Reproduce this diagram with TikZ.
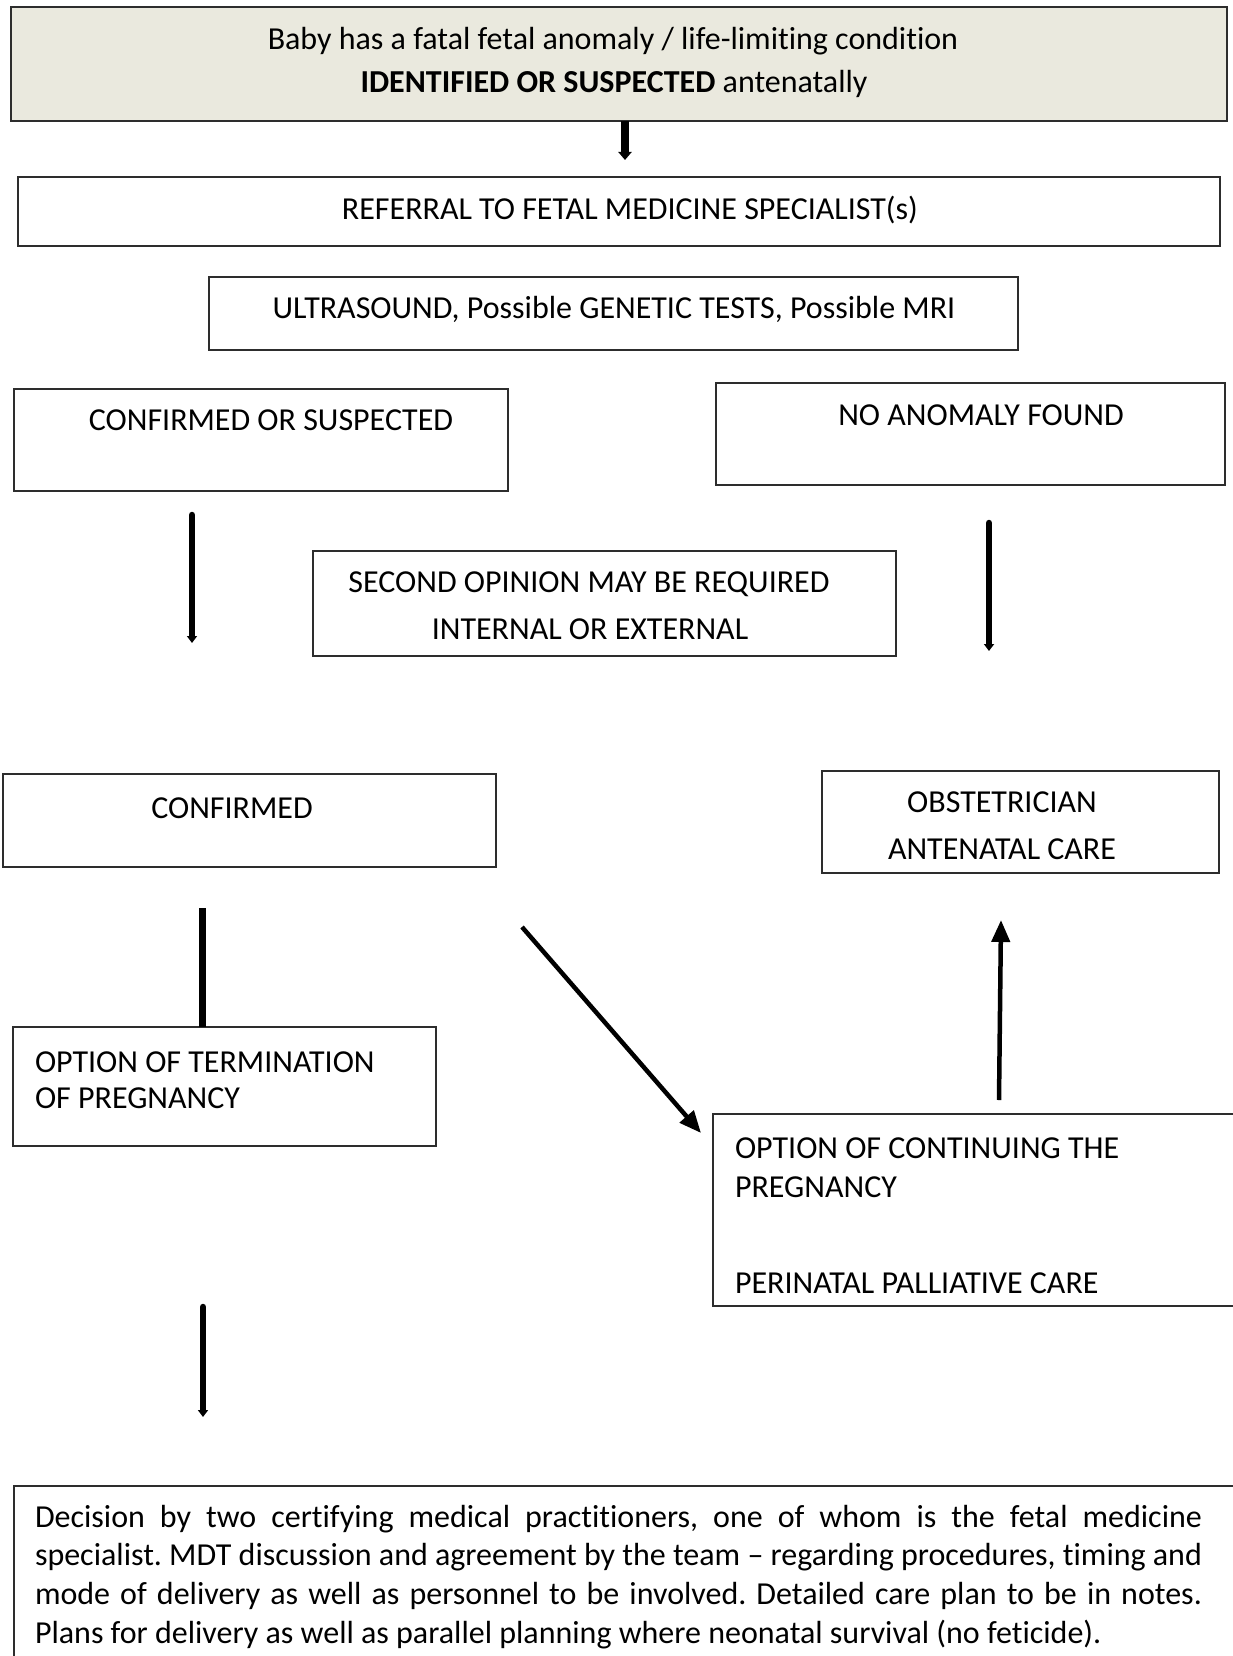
\documentclass[tikz,border=0pt]{standalone}
\usepackage{fontspec}
\setmainfont{Carlito}[Ligatures={NoCommon}]
\usetikzlibrary{arrows.meta}
\definecolor{topfill}{RGB}{234,233,222}
\definecolor{edge}{RGB}{45,45,45}
\frenchspacing
\begin{document}
\begin{tikzpicture}[x=1pt,y=-1pt,
  box/.style={draw=edge, line width=1.5pt, inner sep=0pt, outer sep=0pt, anchor=north west},
  txt/.style={inner sep=0pt, outer sep=0pt, font=\fontsize{32}{44}\selectfont},
  fatarrow/.style={line width=6.5pt, line cap=round, -{Triangle[width=10pt,length=7pt]}},
  thinarrow/.style={line width=4.5pt, -{Triangle[width=18pt,length=22pt]}},
  plainline/.style={line width=7pt}
]
\useasboundingbox (0,0) rectangle (1232,1656);

% boxes
\node[box, fill=topfill, minimum width=1216pt, minimum height=114pt] (top) at (11,7) {};
\node[box, minimum width=1202pt, minimum height=69pt] (ref) at (18,177) {};
\node[box, minimum width=809pt, minimum height=73pt] (us) at (209,277) {};
\node[box, minimum width=494pt, minimum height=102pt] (cs) at (14,389) {};
\node[box, minimum width=509pt, minimum height=102pt] (na) at (716,383) {};
\node[box, minimum width=583pt, minimum height=105pt] (so) at (313,551) {};
\node[box, minimum width=493pt, minimum height=93pt] (conf) at (3,774) {};
\node[box, minimum width=397pt, minimum height=102pt] (obs) at (822,771) {};
\node[box, minimum width=423pt, minimum height=119pt] (term) at (13,1027) {};
\node[box, minimum width=540pt, minimum height=192pt] (cont) at (713,1114) {};
\node[box, minimum width=1240pt, minimum height=200pt] (dec) at (14,1486) {};

% texts
\node[txt, anchor=base] (top-t1) at (613,50) {Baby has a fatal fetal anomaly / life-limiting condition};
\node[txt, anchor=base] (top-t2) at (614,93) {\textbf{IDENTIFIED OR SUSPECTED} antenatally};
\node[txt, anchor=base] (ref-t) at (630,219) {REFERRAL TO FETAL MEDICINE SPECIALIST(s)};
\node[txt, anchor=base] (us-t) at (614,318) {ULTRASOUND, Possible GENETIC TESTS, Possible MRI};
\node[txt, anchor=base] (cs-t) at (271,430) {CONFIRMED OR SUSPECTED};
\node[txt, anchor=base] (na-t) at (981,425) {NO ANOMALY FOUND};
\node[txt, anchor=base] (so-t1) at (589,592) {SECOND OPINION MAY BE REQUIRED};
\node[txt, anchor=base] (so-t2) at (590,639) {INTERNAL OR EXTERNAL};
\node[txt, anchor=base] (conf-t) at (232,818) {CONFIRMED};
\node[txt, anchor=base] (obs-t1) at (1002,812) {OBSTETRICIAN};
\node[txt, anchor=base] (obs-t2) at (1002,859) {ANTENATAL CARE};
\node[txt, anchor=base west] (term-t1) at (35,1072) {OPTION OF TERMINATION};
\node[txt, anchor=base west] (term-t2) at (35,1108) {OF PREGNANCY};
\node[txt, anchor=base west] (cont-t1) at (735,1158) {OPTION OF CONTINUING THE};
\node[txt, anchor=base west] (cont-t2) at (735,1197) {PREGNANCY};
\node[txt, anchor=base west] (cont-t3) at (735,1293) {PERINATAL PALLIATIVE CARE};
\node[txt, anchor=north west, text width=1167pt, align=justify,
      font=\fontsize{32}{38.7}\selectfont] (dec-t) at (35,1505)
  {Decision by two certifying medical practitioners, one of whom is the fetal medicine\linebreak
   specialist. MDT discussion and agreement by the team -- regarding procedures, timing and\linebreak
   mode of delivery as well as personnel to be involved. Detailed care plan to be in notes.\linebreak
   Plans for delivery as well as parallel planning where neonatal survival (no feticide).};

% connector end points
\coordinate (a1s) at (625,121);  \coordinate (a1e) at (625,160);
\coordinate (a2s) at (192,515);  \coordinate (a2e) at (192,643);
\coordinate (a3s) at (989,523);  \coordinate (a3e) at (989,651);
\coordinate (a4s) at (202,908);
\coordinate (a5s) at (522,927);  \coordinate (a5e) at (701,1133);
\coordinate (a6s) at (999,1100); \coordinate (a6e) at (1001,920);
\coordinate (a7s) at (203,1307); \coordinate (a7e) at (203,1417);

\draw[line width=8pt, -{Triangle[width=13pt,length=8pt]}] (a1s) -- (a1e);
\draw[fatarrow] (a2s) -- (a2e);
\draw[fatarrow] (a3s) -- (a3e);
\draw[plainline] (a4s) -- (a4s |- term.north);
\draw[thinarrow] (a5s) -- (a5e);
\draw[thinarrow] (a6s) -- (a6e);
\draw[fatarrow] (a7s) -- (a7e);
\end{tikzpicture}
\end{document}
